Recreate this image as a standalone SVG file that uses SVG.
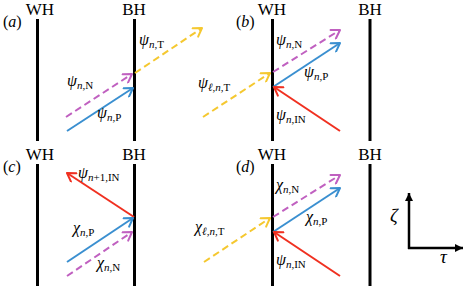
<svg xmlns="http://www.w3.org/2000/svg" width="466" height="289" viewBox="0 0 466 289" font-family="'Liberation Serif', 'DejaVu Serif', serif">
<style>
text{fill:#000}
.hd{font-size:17px;text-anchor:middle}
.pl{font-size:16px}
.lb{font-size:16px}
.i{font-style:italic}
.s{font-size:11px}
.wall{stroke:#000;stroke-width:3;fill:none}
.ar{stroke-width:2;fill:none}
.dash{stroke-dasharray:7 4}
.blue{stroke:#3a8fd0}
.red{stroke:#f03020}
.pur{stroke:#c060c0}
.yel{stroke:#f5c830}
.ax{stroke:#000;stroke-width:2.5;fill:none}
</style>
<defs>
<marker id="mb" viewBox="-10 -6 12 12" refX="0" refY="0" markerWidth="12" markerHeight="12" markerUnits="userSpaceOnUse" orient="auto"><path d="M-8,-5 L0,0 L-8,5" fill="none" stroke="#3a8fd0" stroke-width="2" stroke-linecap="round" stroke-linejoin="round"/></marker>
<marker id="mr" viewBox="-10 -6 12 12" refX="0" refY="0" markerWidth="12" markerHeight="12" markerUnits="userSpaceOnUse" orient="auto"><path d="M-8,-5 L0,0 L-8,5" fill="none" stroke="#f03020" stroke-width="2" stroke-linecap="round" stroke-linejoin="round"/></marker>
<marker id="mp" viewBox="-10 -6 12 12" refX="0" refY="0" markerWidth="12" markerHeight="12" markerUnits="userSpaceOnUse" orient="auto"><path d="M-8,-5 L0,0 L-8,5" fill="none" stroke="#c060c0" stroke-width="2" stroke-linecap="round" stroke-linejoin="round"/></marker>
<marker id="my" viewBox="-10 -6 12 12" refX="0" refY="0" markerWidth="12" markerHeight="12" markerUnits="userSpaceOnUse" orient="auto"><path d="M-8,-5 L0,0 L-8,5" fill="none" stroke="#f5c830" stroke-width="2" stroke-linecap="round" stroke-linejoin="round"/></marker>
<marker id="mk" viewBox="-10 -5 10 10" refX="0" refY="0" markerWidth="10" markerHeight="10" markerUnits="userSpaceOnUse" orient="auto"><path d="M-8,-4 L0,0 L-8,4 Z" fill="#000"/></marker>
</defs>

<g id="panel-a">
<text class="hd" x="40" y="15">WH</text>
<text class="hd" x="134" y="15">BH</text>
<text class="pl" x="3" y="27">(<tspan class="i">a</tspan>)</text>
<line class="wall" x1="37.5" y1="19" x2="37.5" y2="141"/>
<line class="wall" x1="134.5" y1="19" x2="134.5" y2="141"/>
</g>
<g id="panel-b">
<text class="hd" x="272" y="15">WH</text>
<text class="hd" x="370" y="15">BH</text>
<text class="pl" x="236" y="27">(<tspan class="i">b</tspan>)</text>
<line class="wall" x1="272.5" y1="19" x2="272.5" y2="141"/>
<line class="wall" x1="370" y1="19" x2="370" y2="141"/>
</g>
<g id="panel-c">
<text class="hd" x="40" y="160">WH</text>
<text class="hd" x="134" y="160">BH</text>
<text class="pl" x="3" y="172">(<tspan class="i">c</tspan>)</text>
<line class="wall" x1="37.5" y1="164" x2="37.5" y2="286"/>
<line class="wall" x1="134.5" y1="164" x2="134.5" y2="286"/>
</g>
<g id="panel-d">
<text class="hd" x="272" y="160">WH</text>
<text class="hd" x="370" y="160">BH</text>
<text class="pl" x="236" y="172">(<tspan class="i">d</tspan>)</text>
<line class="wall" x1="272.5" y1="164" x2="272.5" y2="286"/>
<line class="wall" x1="370" y1="164" x2="370" y2="286"/>
</g>
<g id="axes">
<line class="ax" x1="409" y1="249" x2="409" y2="193" marker-end="url(#mk)"/>
<line class="ax" x1="408" y1="248" x2="463" y2="248" marker-end="url(#mk)"/>
<text class="i" x="390" y="222" font-size="19">ζ</text>
<text class="i" x="440" y="263" font-size="19">τ</text>
</g>

<g id="connectors">
<line class="ar dash pur" x1="66" y1="117" x2="132" y2="74" marker-end="url(#mp)"/>
<line class="ar blue" x1="67" y1="131" x2="133" y2="88" marker-end="url(#mb)"/>
<line class="ar dash yel" x1="135" y1="73" x2="202" y2="28" marker-end="url(#my)"/>

<line class="ar dash yel" x1="203" y1="117" x2="270" y2="73" marker-end="url(#my)"/>
<line class="ar dash pur" x1="273" y1="72" x2="340" y2="30" marker-end="url(#mp)"/>
<line class="ar blue" x1="273" y1="87" x2="340" y2="43" marker-end="url(#mb)"/>
<line class="ar red" x1="340" y1="131" x2="274" y2="87" marker-end="url(#mr)"/>

<line class="ar red" x1="134" y1="217" x2="67" y2="173" marker-end="url(#mr)"/>
<line class="ar blue" x1="67" y1="262" x2="133" y2="218" marker-end="url(#mb)"/>
<line class="ar dash pur" x1="67" y1="276" x2="132" y2="232" marker-end="url(#mp)"/>

<line class="ar dash yel" x1="204" y1="262" x2="270" y2="218" marker-end="url(#my)"/>
<line class="ar dash pur" x1="273" y1="217" x2="340" y2="175" marker-end="url(#mp)"/>
<line class="ar blue" x1="273" y1="232" x2="340" y2="188" marker-end="url(#mb)"/>
<line class="ar red" x1="340" y1="276" x2="274" y2="232" marker-end="url(#mr)"/>
</g>

<g id="labels">
<text class="lb" x="139" y="45"><tspan class="i">ψ</tspan><tspan class="s" dy="3"><tspan class="i">n</tspan>,T</tspan></text>
<text class="lb" x="67" y="86"><tspan class="i">ψ</tspan><tspan class="s" dy="3"><tspan class="i">n</tspan>,N</tspan></text>
<text class="lb" x="97" y="118"><tspan class="i">ψ</tspan><tspan class="s" dy="3"><tspan class="i">n</tspan>,P</tspan></text>

<text class="lb" x="198" y="88"><tspan class="i">ψ</tspan><tspan class="s" dy="3"><tspan class="i">ℓ</tspan>,<tspan class="i">n</tspan>,T</tspan></text>
<text class="lb" x="276" y="45"><tspan class="i">ψ</tspan><tspan class="s" dy="3"><tspan class="i">n</tspan>,N</tspan></text>
<text class="lb" x="304" y="77"><tspan class="i">ψ</tspan><tspan class="s" dy="3"><tspan class="i">n</tspan>,P</tspan></text>
<text class="lb" x="276" y="120"><tspan class="i">ψ</tspan><tspan class="s" dy="3"><tspan class="i">n</tspan>,IN</tspan></text>

<text class="lb" x="78" y="178"><tspan class="i">ψ</tspan><tspan class="s" dy="3"><tspan class="i">n</tspan>+1,IN</tspan></text>
<text class="lb" x="73" y="233"><tspan class="i">χ</tspan><tspan class="s" dy="3"><tspan class="i">n</tspan>,P</tspan></text>
<text class="lb" x="97" y="268"><tspan class="i">χ</tspan><tspan class="s" dy="3"><tspan class="i">n</tspan>,N</tspan></text>

<text class="lb" x="195" y="232"><tspan class="i">χ</tspan><tspan class="s" dy="3"><tspan class="i">ℓ</tspan>,<tspan class="i">n</tspan>,T</tspan></text>
<text class="lb" x="276" y="190"><tspan class="i">χ</tspan><tspan class="s" dy="3"><tspan class="i">n</tspan>,N</tspan></text>
<text class="lb" x="306" y="222"><tspan class="i">χ</tspan><tspan class="s" dy="3"><tspan class="i">n</tspan>,P</tspan></text>
<text class="lb" x="276" y="265"><tspan class="i">ψ</tspan><tspan class="s" dy="3"><tspan class="i">n</tspan>,IN</tspan></text>
</g>
</svg>
